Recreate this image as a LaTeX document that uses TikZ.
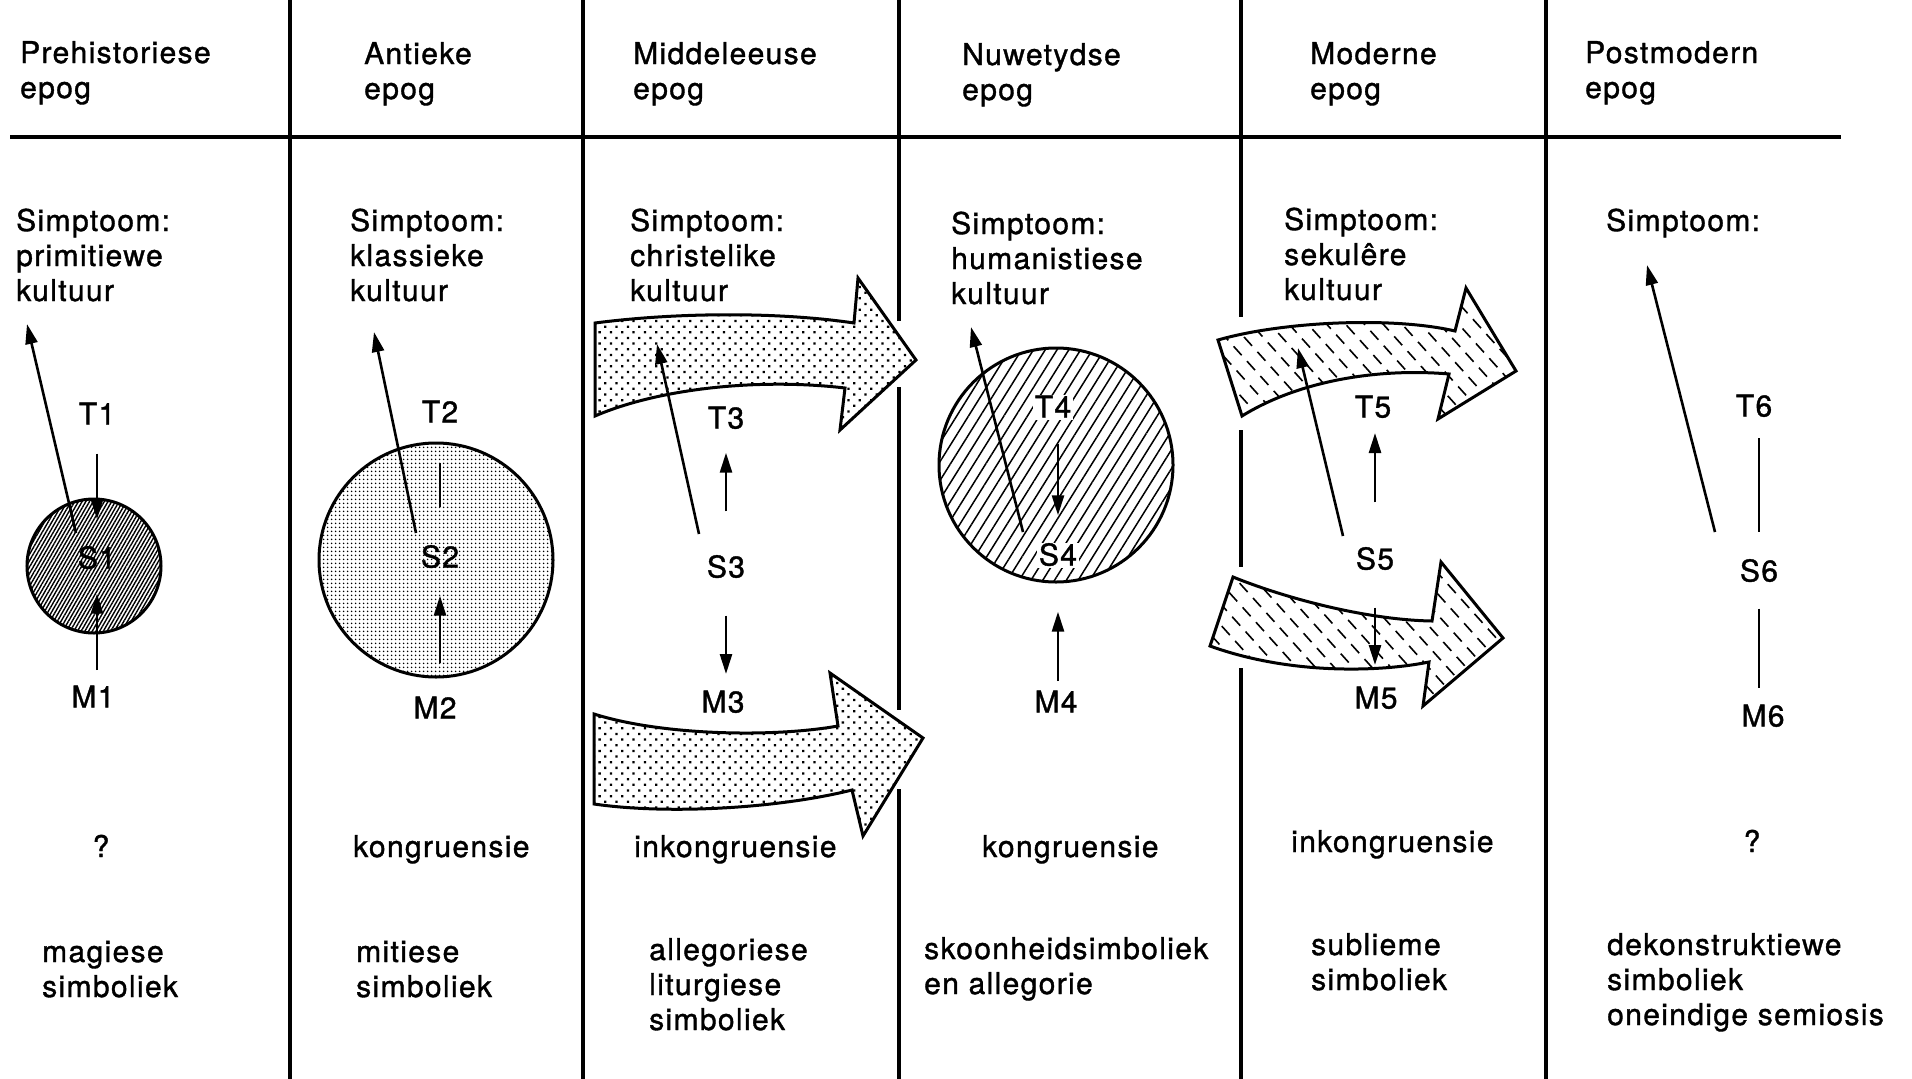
\documentclass[tikz,border=0pt]{standalone}
\usepackage{fontspec}
\setmainfont{TeX Gyre Heros}[LetterSpace=4.5,FakeBold=1.2]
\usetikzlibrary{arrows.meta,patterns.meta}

\tikzdeclarepattern{
  name=dashhatch,
  type=uncolored,
  bottom left={(-1pt,-1pt)},
  top right={(21pt,15pt)},
  tile size={(20pt,14pt)},
  tile transformation={rotate=-48},
  code={\draw[line width=1.6pt] (1pt,7pt) -- (13pt,7pt);}
}

\begin{document}
\begin{tikzpicture}[x=1pt,y=-1pt,
  txt/.style={anchor=base west, align=left, inner sep=0pt, font=\fontsize{30}{35}\selectfont},
  lbl/.style={inner sep=0pt, text height=21pt, text depth=0pt, font=\fontsize{30}{35}\selectfont},
  wlbl/.style={lbl, fill=white, inner sep=2pt},
  frame/.style={line width=3.5pt},
  arr/.style={line width=2.6pt, -{Triangle[length=20pt,width=12pt]}},
  stem/.style={line width=2.6pt},
  band/.style={line width=3pt, line join=miter},
  ring/.style={circle, draw, line width=3pt, inner sep=0pt},
]
\fill[white] (0,0) rectangle (1912,1079);
\useasboundingbox (0,0) rectangle (1912,1079);

% frame lines
\draw[frame] (10,137) -- (1841,137);
\draw[frame] (290,0) -- (290,1079);
\draw[frame] (583,0) -- (583,1079);
\draw[frame] (899,0) -- (899,321) (899,387) -- (899,710) (899,789) -- (899,1079);
\draw[frame] (1241,0) -- (1241,317) (1241,430) -- (1241,567) (1241,668) -- (1241,1079);
\draw[frame] (1546,0) -- (1546,1079);

% big curved arrows, Middeleeuse (stippled)
\draw[band, pattern={Dots[radius=1.6pt,distance=8pt,angle=45]}]
  (595,323) .. controls (680,312) and (780,312) .. (854,323) -- (858,278) -- (916,360)
  -- (840,430) -- (845,388) .. controls (760,378) and (660,388) .. (595,416) -- cycle;
\draw[band, pattern={Dots[radius=1.6pt,distance=8pt,angle=45]}]
  (594,714) .. controls (660,735) and (770,738) .. (838,726) -- (830,673) -- (923,738)
  -- (863,836) -- (852,790) .. controls (780,808) and (670,815) .. (594,804) -- cycle;

% big curved arrows, Moderne (dashed hatching)
\draw[band, pattern=dashhatch]
  (1218,340) .. controls (1280,322) and (1390,316) .. (1455,331) -- (1466,288) -- (1516,371)
  -- (1438,419) -- (1449,374) .. controls (1380,368) and (1300,380) .. (1242,416) -- cycle;
\draw[band, pattern=dashhatch]
  (1233,577) .. controls (1290,600) and (1370,620) .. (1432,621) -- (1441,562) -- (1503,638)
  -- (1423,706) -- (1429,662) .. controls (1380,672) and (1290,675) .. (1210,646) -- cycle;

% circles
\node[ring, minimum size=134pt, pattern={Lines[angle=60,distance=3.2pt,line width=1.4pt]}] (C1) at (94,566) {};
\node[ring, minimum size=234pt, pattern={Dots[radius=1pt,distance=4pt]}] (C2) at (436,560) {};
\node[ring, minimum size=234pt, pattern={Lines[angle=58,distance=10pt,line width=1.5pt]}] (C4) at (1056,465) {};

% headers (coordinates give the baseline of the last line)
\node[txt] (h1) at (20,98) {Prehistoriese\\epog};
\node[txt] (h2) at (364,99) {Antieke\\epog};
\node[txt] (h3) at (633,99) {Middeleeuse\\epog};
\node[txt] (h4) at (962,100) {Nuwetydse\\epog};
\node[txt] (h5) at (1310,99) {Moderne\\epog};
\node[txt] (h6) at (1585,98) {Postmodern\\epog};

% symptoms
\node[txt] (s1) at (16,301) {Simptoom:\\primitiewe\\kultuur};
\node[txt] (s2) at (350,301) {Simptoom:\\klassieke\\kultuur};
\node[txt] (s3) at (630,301) {Simptoom:\\christelike\\kultuur};
\node[txt] (s4) at (951,304) {Simptoom:\\humanistiese\\kultuur};
\node[txt] (s5) at (1284,300) {Simptoom:\\sekulêre\\kultuur};
\node[txt] (s6) at (1606,231) {Simptoom:};

% congruence row
\node[txt, anchor=base] (k1) at (101,857) {?};
\node[txt] (k2) at (353,857) {kongruensie};
\node[txt] (k3) at (634,857) {inkongruensie};
\node[txt] (k4) at (982,857) {kongruensie};
\node[txt] (k5) at (1291,852) {inkongruensie};
\node[txt, anchor=base] (k6) at (1752,852) {?};

% symbolism row
\node[txt] (y1) at (42,997) {magiese\\simboliek};
\node[txt] (y2) at (356,997) {mitiese\\simboliek};
\node[txt] (y3) at (649,1030) {allegoriese\\liturgiese\\simboliek};
\node[txt] (y4) at (924,994) {skoonheidsimboliek\\en allegorie};
\node[txt] (y5) at (1311,990) {sublieme\\simboliek};
\node[txt] (y6) at (1607,1025) {dekonstruktiewe\\simboliek\\oneindige semiosis};

% T / S / M labels
\node[lbl] (T1) at (97,414) {T1};
\node[lbl] (S1) at (97,558) {S1};
\node[lbl] (M1) at (93,697) {M1};
\node[lbl] (T2) at (440,412) {T2};
\node[lbl] (S2) at (440,557) {S2};
\node[lbl] (M2) at (435,708) {M2};
\node[lbl] (T3) at (726,418) {T3};
\node[lbl] (S3) at (726,567) {S3};
\node[lbl] (M3) at (723,702) {M3};
\node[wlbl] (T4) at (1053,407) {T4};
\node[wlbl] (S4) at (1058,555) {S4};
\node[lbl] (M4) at (1056,702) {M4};
\node[lbl] (T5) at (1373,407) {T5};
\node[lbl] (S5) at (1375,559) {S5};
\node[lbl] (M5) at (1376,698) {M5};
\node[lbl] (T6) at (1754,406) {T6};
\node[lbl] (S6) at (1759,571) {S6};
\node[lbl] (M6) at (1763,716) {M6};

% long slanted arrows towards the symptoms
\coordinate (L1a) at (76,533);   \coordinate (L1b) at (27,324);
\coordinate (L2a) at (416,533);  \coordinate (L2b) at (374,332);
\coordinate (L3a) at (699,534);  \coordinate (L3b) at (657,344);
\coordinate (L4a) at (1023,532); \coordinate (L4b) at (971,327);
\coordinate (L5a) at (1343,536); \coordinate (L5b) at (1298,348);
\coordinate (L6a) at (1715,532); \coordinate (L6b) at (1647,265);
\foreach \i in {1,...,6} \draw[arr] (L\i a) -- (L\i b);

% column 1
\draw[arr, shorten <=29pt, shorten >=28pt] (T1) -- (S1);
\draw[arr, shorten <=27pt, shorten >=25pt] (S1 |- M1) -- (S1);
% column 2
\draw[stem, shorten <=40pt, shorten >=39pt] (T2) -- (S2);
\draw[arr, shorten <=45pt, shorten >=28pt] (S2 |- M2) -- (S2);
% column 3
\draw[arr, shorten <=45pt, shorten >=24pt] (S3) -- (T3);
\draw[arr, shorten <=38pt, shorten >=28pt] (S3) -- (S3 |- M3);
% column 4
\draw[arr, shorten <=37pt, shorten >=27pt] (S4 |- T4) -- (S4);
\draw[arr, shorten <=21pt, shorten >=44pt] (S4 |- M4) -- (S4);
% column 5
\draw[arr, shorten <=46pt, shorten >=26pt] (S5) -- (S5 |- T5);
\draw[arr, shorten <=38pt, shorten >=33pt] (S5) -- (S5 |- M5);
% column 6
\draw[stem, shorten <=32pt, shorten >=28pt] (S6 |- T6) -- (S6);
\draw[stem, shorten <=27pt, shorten >=28pt] (S6) -- (S6 |- M6);
\end{tikzpicture}
\end{document}
